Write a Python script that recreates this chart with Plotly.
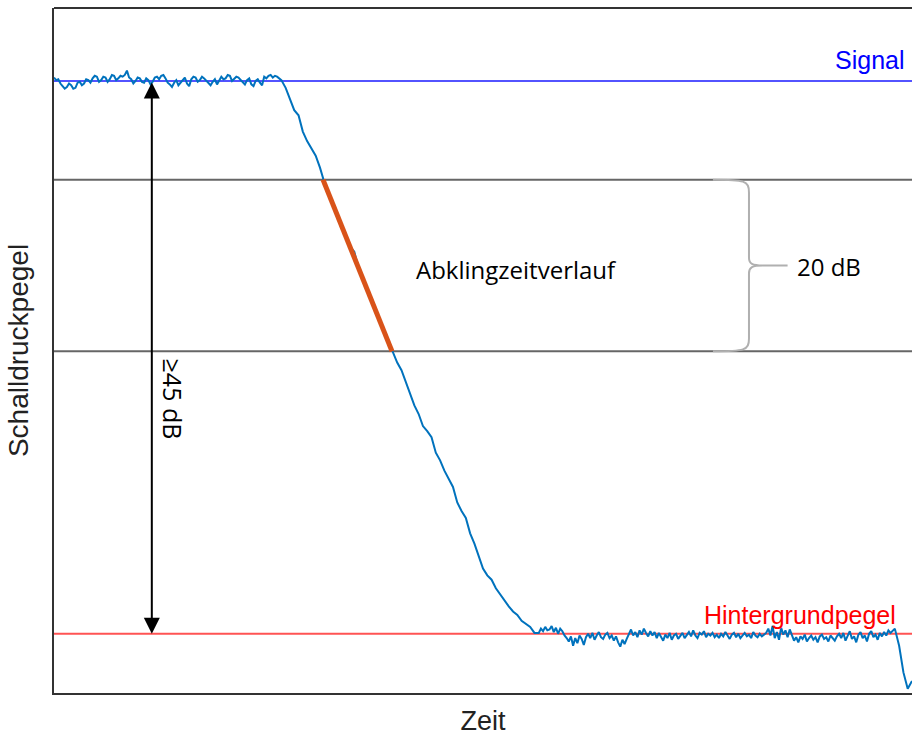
import numpy as np
import plotly.graph_objects as go

# Sample times (ms) per segment of the level trace
time_steady = np.arange(0, 262.5, 2.5)
time_decay = np.arange(265, 565, 5)
time_noise = np.arange(565, 977.5, 2.5)
time_end = np.arange(980, 1005, 5)

# Sound pressure level relative to the signal level (dB)
level_steady = [
    0.4, 0.1, 0.2, -0.3, -0.6, -0.9, -0.7, -0.3, -0.5, -0.9,
    -0.8, -0.2, -0.1, -0.5, -0.3, 0.2, 0.1, -0.2, 0.3, 0.6,
    0.5, -0.1, 0.1, 0.5, 0.4, -0.1, 0.2, 0.7, 0.6, 0.1,
    0.3, 0.6, 0.5, 0.7, 1.2, 0.4, 0.2, -0.3, 0.0, 0.4,
    0.3, -0.1, -0.2, 0.3, 0.1, -0.4, -0.1, 0.4, 0.5, 0.2,
    0.6, 0.7, 0.3, -0.2, -0.4, -0.7, -0.2, 0.1, -0.5, -0.2,
    0.0, 0.4, -0.3, -0.6, 0.2, 0.5, 0.4, -0.1, 0.1, 0.5,
    0.3, 0.0, -0.3, -0.5, -0.1, 0.2, -0.4, 0.1, 0.5, 0.2,
    0.3, 0.7, 0.6, 0.0, 0.2, 0.5, 0.4, 0.1, -0.1, -0.4,
    0.1, 0.3, -0.4, -0.6, 0.0, 0.2, -0.2, -0.5, 0.5, 0.3,
    0.6, 0.7, 0.4, 0.6, 0.5,
]
level_decay = [
    0.1, -0.8, -2.2, -3.4, -4.0, -5.9, -7.0, -7.8, -8.7, -10.1, -11.8,
    -13.1, -14.3, -15.6, -16.8, -18.1, -19.3, -19.9, -21.8, -23.1, -24.3,
    -25.5, -26.8, -28.0, -29.3, -30.4, -31.7,
    -32.8, -33.7, -35.1, -36.6, -37.8, -38.8, -40.2, -40.8, -41.5, -43.3,
    -44.2, -45.4, -46.3, -47.3, -49.1, -50.1, -50.9, -52.7, -53.9, -55.4,
    -56.8, -57.6, -58.1, -59.1, -59.8, -60.6, -61.2, -61.8, -62.2, -62.9,
    -63.3, -63.6, -64.3,
]
level_noise = [
    -64.3, -63.8, -64.1, -63.6, -64.0, -63.9, -63.5, -64.2, -63.7, -64.4,
    -63.8, -64.1, -64.6, -64.9,
    -65.3, -64.7, -65.8, -64.9, -65.5, -64.6, -65.0, -65.7, -64.8,
    -64.4, -64.9, -64.3, -65.1, -64.6, -64.2, -64.8, -65.0, -64.5, -64.3,
    -64.9, -64.6, -65.2, -64.7,
    -65.4, -65.9, -65.1, -65.6, -65.0,
    -64.4, -63.9, -64.6, -64.2, -64.8, -64.0, -64.5, -63.8, -64.3, -64.7,
    -64.1, -64.6, -64.2, -64.9, -64.3,
    -64.8, -65.2, -64.5, -64.9, -64.3, -65.1, -64.6, -64.4, -65.0, -64.7,
    -64.3, -64.9, -64.5,
    -64.2, -64.7, -64.0, -64.6, -64.9, -64.3, -64.5, -64.1, -64.8, -64.4,
    -64.6,
    -64.3, -64.8, -64.5, -64.9, -64.4, -64.7, -64.2, -64.6, -65.0, -64.5,
    -64.3, -64.8, -64.4, -64.9, -64.6, -64.3, -64.7, -64.5, -64.9, -64.2,
    -64.6, -64.8, -64.4, -64.7, -64.5, -64.3,
    -63.8, -64.6, -63.5, -64.9, -64.2, -65.1, -63.7, -64.5, -64.0, -64.8,
    -63.9,
    -64.6, -65.2, -64.8, -65.4, -64.7, -65.0, -64.5, -65.3, -64.9, -64.6,
    -65.1, -64.8, -65.4, -64.7, -64.5, -65.0, -64.8, -65.3, -64.6, -64.9,
    -65.2, -64.7, -64.4,
    -64.9, -64.3, -65.2, -64.6, -64.1, -65.0, -64.7, -65.4, -64.5, -64.2,
    -64.9, -64.6, -65.3, -64.4, -64.1, -64.8, -64.5, -65.1, -64.3, -64.7,
    -64.2, -64.6, -64.0, -64.3,
]
level_end = [-63.8, -65.8, -68.9, -70.8, -69.9]

time_ms = np.concatenate([time_steady, time_decay, time_noise, time_end])
level_db = level_steady + level_decay + level_noise + level_end
assert len(level_db) == len(time_ms)

# Reference levels (dB)
SIGNAL_DB = 0.0
EVAL_START_DB = -11.5
EVAL_END_DB = -31.5
BACKGROUND_DB = -64.4

# Evaluated decay range (ms) between the two evaluation levels
EVAL_START_MS = 313.5
EVAL_END_MS = 394.0

X_RANGE = [0, 1000]
Y_RANGE = [-71.3, 8.5]

fig = go.Figure()

# Level trace
fig.add_trace(go.Scatter(
    x=time_ms, y=level_db, mode="lines",
    line=dict(color="#0072BD", width=2),
    hoverinfo="skip", showlegend=False,
))

# Fitted decay line between the evaluation levels
fig.add_trace(go.Scatter(
    x=[EVAL_START_MS, EVAL_END_MS], y=[EVAL_START_DB, EVAL_END_DB],
    mode="lines", line=dict(color="#D95319", width=5),
    hoverinfo="skip", showlegend=False,
))

shapes = []
# Signal and background levels
shapes.append(dict(type="line", xref="paper", x0=0, x1=1, yref="y",
                   y0=SIGNAL_DB, y1=SIGNAL_DB,
                   line=dict(color="rgba(40,40,255,0.8)", width=2), layer="below"))
shapes.append(dict(type="line", xref="paper", x0=0, x1=1, yref="y",
                   y0=BACKGROUND_DB, y1=BACKGROUND_DB,
                   line=dict(color="rgba(255,40,40,0.8)", width=2), layer="below"))
# Evaluation levels
for lvl in (EVAL_START_DB, EVAL_END_DB):
    shapes.append(dict(type="line", xref="paper", x0=0, x1=1, yref="y",
                       y0=lvl, y1=lvl, line=dict(color="#666666", width=2),
                       layer="below"))
# Top frame line
shapes.append(dict(type="line", xref="paper", x0=0, x1=1, yref="paper",
                   y0=1, y1=1, line=dict(color="#333333", width=2)))

# Curly brace marking the 20 dB evaluation range
bx0, bx, btip, btail = 768, 810, 826, 855
mid = (EVAL_START_DB + EVAL_END_DB) / 2
t, b = EVAL_START_DB, EVAL_END_DB
brace = (
    f"M {bx0},{t} C {bx0 + 37},{t} {bx},{t - 0.1} {bx},{t - 1.5} "
    f"L {bx},{mid + 0.9} C {bx},{mid + 0.2} {bx + 4},{mid} {btip},{mid} "
    f"C {bx + 4},{mid} {bx},{mid - 0.2} {bx},{mid - 0.9} "
    f"L {bx},{b + 1.5} C {bx},{b + 0.1} {bx0 + 37},{b} {bx0},{b} "
    f"M {btip},{mid} L {btail},{mid}"
)
shapes.append(dict(type="path", xref="x", yref="y", path=brace,
                   line=dict(color="#b0b0b0", width=2)))

annotations = [
    # Double arrow from signal down to background level
    dict(x=114, y=BACKGROUND_DB, ax=114, ay=SIGNAL_DB, xref="x", yref="y",
         axref="x", ayref="y", text="", showarrow=True,
         arrowhead=2, startarrowhead=2, arrowside="end+start",
         arrowsize=1.6, startarrowsize=1.6, arrowwidth=2, arrowcolor="#000000"),
    dict(x=138.7, y=-37.0, xref="x", yref="y", text="≥45 dB", showarrow=False,
         textangle=90, font=dict(family="Open Sans", size=25, color="#000000")),
    dict(x=994, y=SIGNAL_DB, xref="x", yref="y", text="Signal", showarrow=False,
         xanchor="right", yanchor="bottom", yshift=5,
         font=dict(family="Liberation Sans", size=25, color="#0000ff")),
    dict(x=983.7, y=BACKGROUND_DB, xref="x", yref="y", text="Hintergrundpegel",
         showarrow=False, xanchor="right", yanchor="bottom", yshift=3,
         font=dict(family="Liberation Sans", size=25, color="#ff0000")),
    dict(x=538.5, y=mid, xref="x", yref="y", text="Abklingzeitverlauf",
         showarrow=False, xanchor="center", yanchor="middle", yshift=-4,
         font=dict(family="Open Sans", size=24, color="#000000")),
    dict(x=863.6, y=mid, xref="x", yref="y", text="20 dB",
         showarrow=False, xanchor="left", yanchor="middle", yshift=-1,
         font=dict(family="Open Sans", size=24, color="#000000")),
]

fig.update_layout(
    width=912, height=740,
    margin=dict(l=54, r=0, t=8, b=47),
    paper_bgcolor="white", plot_bgcolor="white",
    shapes=shapes, annotations=annotations,
    showlegend=False,
)
fig.update_xaxes(
    range=X_RANGE, showgrid=False, zeroline=False, showticklabels=False,
    ticks="", showline=True, linecolor="#333333", linewidth=2,
    title=dict(text="Zeit", standoff=17,
               font=dict(family="Liberation Sans", size=27, color="#222222")),
    automargin=False,
)
fig.update_yaxes(
    range=Y_RANGE, showgrid=False, zeroline=False, showticklabels=False,
    ticks="", showline=True, linecolor="#333333", linewidth=2,
    title=dict(text="Schalldruckpegel", standoff=15,
               font=dict(family="Liberation Sans", size=28, color="#222222")),
    automargin=False,
)

fig.write_html("out.html", config={"displayModeBar": False})
